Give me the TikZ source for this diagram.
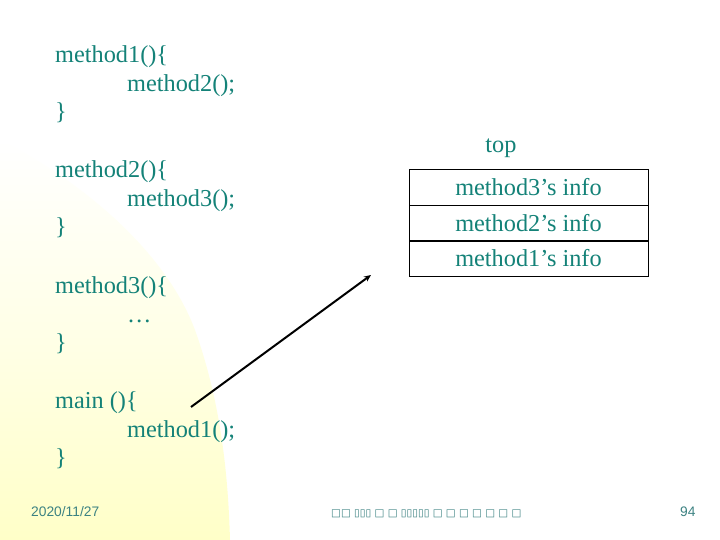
\documentclass[tikz,border=0pt]{standalone}
\usepackage{fontspec}
\usetikzlibrary{arrows.meta}
\setmainfont{Liberation Serif}
\newfontfamily\footsans{Liberation Sans}
\newfontfamily\boxfont{DejaVu Sans}
\definecolor{codeteal}{RGB}{20,130,120}
\definecolor{footteal}{RGB}{60,130,130}
\definecolor{paleyellow}{RGB}{255,255,200}
\begin{document}
\begin{tikzpicture}[x=1pt,y=-1pt,
  code/.style={anchor=base west,inner sep=0pt,text=codeteal,font=\fontsize{24.3}{24.3}\selectfont},
  cell/.style={draw=black,line width=0.8pt,minimum width=239pt,minimum height=36pt,inner sep=0pt,text=codeteal,font=\fontsize{24.3}{24.3}\selectfont},
  foot/.style={anchor=base west,inner sep=0pt,text=footteal,font=\footsans\fontsize{13.8}{13.8}\selectfont}]
\useasboundingbox (0,0) rectangle (720,540);
\fill[white] (0,0) rectangle (720,540);
% yellow background shape
\shade[top color=white,bottom color=paleyellow,middle color=paleyellow!45]
  (0,140) .. controls (80,180) and (165,250) .. (195,330)
  .. controls (220,400) and (228,470) .. (230,540) -- (0,540) -- cycle;
% code text
\node[code] (m1) at (55,63) {method1()\{};
\node[code] (m1b) at (127,92) {method2();};
\node[code] (m1c) at (55,120) {\}};
\node[code] (m2) at (55,178) {method2()\{};
\node[code] (m2b) at (127,207) {method3();};
\node[code] (m2c) at (55,235) {\}};
\node[code] (m3) at (55,293) {method3()\{};
\node[code] (m3b) at (127,322) {\dots};
\node[code] (m3c) at (55,350) {\}};
\node[code] (mn) at (55,408) {main ()\{};
\node[code] (mnb) at (127,437) {method1();};
\node[code] (mnc) at (55,465) {\}};
% stack
\node[code,anchor=base] (top) at (501,153) {top};
\node[cell] (s3) at (528.5,187) {method3’s info};
\node[cell] (s2) at (528.5,223) {method2’s info};
\node[cell] (s1) at (528.5,258.5) {method1’s info};
% arrow
\coordinate (a0) at (191,407);
\coordinate (a1) at (371,275);
\draw[line width=2pt,-{Stealth[length=7pt,width=6pt]}] (a0) -- (a1);
% footer
\node[foot] (date) at (31,516) {2020/11/27};
\node[anchor=base west,inner sep=0pt,text=footteal,font=\boxfont\fontsize{10.4}{10.4}\selectfont] (title) at (331,516) {□□ ▯▯▯ □ □ ▯▯▯▯▯ □ □ □ □ □ □ □};
\node[foot] (page) at (680,516) {94};
\end{tikzpicture}
\end{document}
